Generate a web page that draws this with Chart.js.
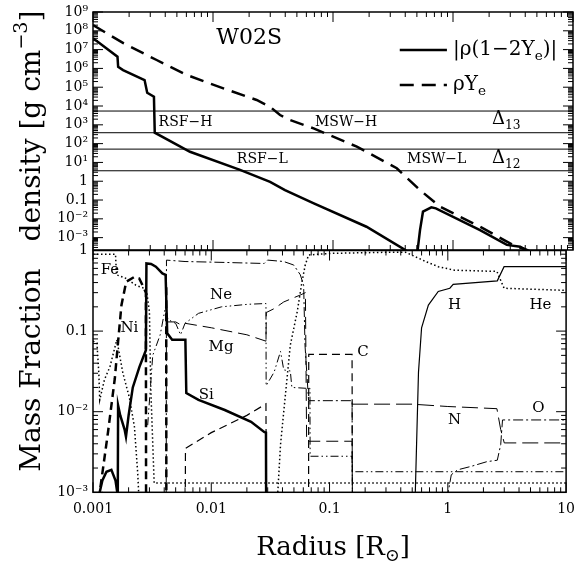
<!DOCTYPE html>
<html>
<head>
<meta charset="utf-8">
<script src="https://cdn.jsdelivr.net/npm/chart.js@4.4.1/dist/chart.umd.min.js"></script>
<style>
body { margin: 0; background: #fff; width: 584px; height: 580px; position: relative; overflow: hidden; }
canvas { position: absolute; left: 0; }
#top { top: 0; }
#bot { top: 238px; }
</style>
</head>
<body>
<canvas id="top" width="584" height="262" style="width:584px;height:262px"></canvas>
<canvas id="bot" width="584" height="342" style="width:584px;height:342px"></canvas>
<script>
// ---- top panel: density profiles (radius in R_sun, density in g/cm^3)
const radRhoYe = [0.001,0.00179,0.00339,0.00603,0.0122,0.0231,0.0298,0.0362,0.0438,0.0689,0.158,0.34,0.53,0.78,1.68,3.16,4.13,5.3];
const rhoYe    = [2.0e8,2.2e7,2.8e6,4.5e5,8.7e4,2.1e4,9.2e3,3.3e3,1.8e3,650,69,4.9,0.34,0.044,3.8e-3,4.1e-4,2.2e-4,1e-4];
const radRhoAbs = [0.001,0.0016,0.00162,0.00178,0.00269,0.00283,0.00322,0.00327,0.00643,0.0168,0.0299,0.0398,0.0692,0.19,0.40,0.45,0.50,0.531,0.562,0.66,0.72,1.68,2.81,3.63,4.07,4.5];
const rhoAbs    = [4.0e7,4.2e6,1.2e6,8.1e5,2.4e5,5.1e4,3.1e4,380,37,4.0,0.93,0.34,0.066,3.8e-3,2.2e-4,1e-4,1e-4,2.5e-3,0.024,0.041,0.036,2.5e-3,4.1e-4,3.3e-4,2.2e-4,1e-4];
// resonance density levels (horizontal lines)
const resRho = [5400, 380, 51, 3.6];

// ---- bottom panel: mass fractions
const feR = [0.001,0.00155,0.00158,0.00191,0.00231,0.0027,0.00285,0.003,0.00308,0.00329,10];
const fe  = [0.9,0.9,0.5,0.45,0.37,0.34,0.3,0.175,0.0195,0.0013,0.0013];
const sR  = [0.001,0.00108,0.00112,0.00114,0.00125,0.00139,0.00159,0.00179,0.00203,0.00224,0.00239,0.00245];
const s   = [0.075,0.071,0.03,0.014,0.025,0.036,0.078,0.03,0.015,0.0065,0.0017,0.0008];
const niR = [0.00112,0.00114,0.00134,0.00153,0.00163,0.00174,0.00191,0.00224,0.00246,0.0027,0.0028,0.00281,0.00415,0.00416,0.00417];
const ni  = [0.0008,0.001,0.0056,0.026,0.074,0.21,0.41,0.47,0.45,0.34,0.3,0.0008,null,0.35,0.0008];
const siR = [0.0011,0.0012,0.0013,0.00143,0.00155,0.00162,0.00163,0.0017,0.00185,0.0019,0.002,0.00217,0.00247,0.0028,0.00283,0.0031,0.0034,0.00386,0.00411,0.00424,0.00467,0.00604,0.00615,0.0078,0.013,0.0217,0.028,0.029,0.0291];
const si  = [0.0008,0.0014,0.0018,0.0019,0.0014,0.0009,0.012,0.009,0.006,0.0049,0.009,0.02,0.036,0.058,0.69,0.68,0.63,0.52,0.5,0.094,0.078,0.078,0.017,0.014,0.0105,0.0075,0.0056,0.0055,0.0008];
const neR = [0.0029,0.0032,0.0037,0.0041,0.0043,0.0047,0.005,0.0055,0.006,0.0078,0.0122,0.0204,0.029,0.0291,0.034,0.0385,0.041,0.0466,0.048,0.064,0.0683,0.0685,0.155,0.156,10];
const ne  = [0.0068,0.05,0.09,0.2,0.14,0.13,0.125,0.09,0.125,0.166,0.2,0.215,0.22,0.021,0.031,0.056,0.033,0.032,0.02,0.0195,0.0195,0.0028,0.0028,0.0018,0.0018];
const mgR = [0.0043,0.005,0.0055,0.006,0.01,0.02,0.029,0.0292,0.034,0.041,0.05,0.0565,0.0625,0.064,0.155,0.156];
const mg  = [0.13,0.13,0.12,0.125,0.11,0.09,0.075,0.17,0.19,0.23,0.26,0.28,0.3,0.0043,0.0043,0.0008];
const oR  = [0.00416,0.00418,0.006,0.0135,0.028,0.0299,0.041,0.0498,0.0566,0.0604,0.062,0.0665,0.155,0.156,0.5,0.98,1.07,1.21,1.58,2.14,2.62,2.8,2.9,10];
const o   = [0.0008,0.76,0.73,0.71,0.69,0.76,0.73,0.66,0.5,0.37,0.067,0.0137,0.0137,0.0008,null,0.0008,0.00165,0.0019,0.0021,0.0024,0.0025,0.0039,0.0079,0.0079];
const cR  = [0.00603,0.00605,0.01,0.02,0.029,0.0292,0.05,0.0665,0.0667,0.155,0.156];
const c   = [0.0008,0.0035,0.0055,0.009,0.0125,0.0008,null,0.0008,0.0515,0.0515,0.0008];
const nR  = [0.155,0.5,1.0,2.6,2.8,3.0,10];
const n   = [0.0124,0.0124,0.0116,0.0109,0.006,0.0041,0.0041];
const hR  = [0.53,0.531,0.565,0.60,0.685,0.83,1.04,1.11,2.62,2.99,10];
const h   = [0.0008,0.001,0.031,0.11,0.21,0.31,0.34,0.38,0.42,0.63,0.63];
const heR = [0.0362,0.0385,0.041,0.0466,0.0533,0.0585,0.0623,0.0665,0.1,0.3,0.44,0.65,0.83,1.14,2.6,2.99,10];
const he  = [0.0008,0.0039,0.01,0.067,0.174,0.41,0.66,0.88,0.92,0.95,0.95,0.73,0.63,0.57,0.55,0.34,0.32];

// ---- ticks
const radTicks = [0.001, 0.01, 0.1, 1, 10];
const radTickText = ['0.001', '0.01', '0.1', '1', '10'];
const rhoTicks = [1e9,1e8,1e7,1e6,1e5,1e4,1e3,1e2,1e1,1,0.1,0.01,0.001];
const rhoTickText = ['10⁹','10⁸','10⁷','10⁶','10⁵','10⁴','10³','10²','10¹','1','0.1','10⁻²','10⁻³'];
const massTicks = [1, 0.1, 0.01, 0.001];
const massTickText = ['1', '0.1', '10⁻²', '10⁻³'];

const SERIF = 'DejaVu Serif';

function pts(xs, ys) { return xs.map((x, i) => ({ x: x, y: ys[i] })); }

function line(data, dash, width) {
  return { data: data, borderColor: '#000', borderWidth: width, borderDash: dash,
           pointRadius: 0, fill: false, tension: 0, spanGaps: false };
}

// text with sub/superscripts: parts = [[text, shift]] shift -1 sub, 1 sup
function rich(ctx, parts, x, y, size, align) {
  const widths = parts.map(p => {
    ctx.font = (p[1] ? size * 0.68 : size) + 'px "' + SERIF + '"';
    return ctx.measureText(p[0]).width;
  });
  const total = widths.reduce((a, b) => a + b, 0);
  let cx = align === 'center' ? x - total / 2 : (align === 'right' ? x - total : x);
  ctx.textAlign = 'left';
  ctx.textBaseline = 'middle';
  ctx.fillStyle = '#000';
  parts.forEach((p, i) => {
    ctx.font = (p[1] ? size * 0.68 : size) + 'px "' + SERIF + '"';
    const dy = p[1] === -1 ? size * 0.32 : (p[1] === 1 ? -size * 0.38 : 0);
    ctx.fillText(p[0], cx, y + dy);
    cx += widths[i];
  });
}

// frame with inward log ticks on all four sides
const framePlugin = {
  id: 'frame',
  afterDatasetsDraw(chart) {
    const { ctx, chartArea: a } = chart;
    const x = chart.scales.x, y = chart.scales.y;
    ctx.save();
    ctx.strokeStyle = '#000';
    ctx.lineWidth = 1.5;
    ctx.strokeRect(a.left, a.top, a.right - a.left, a.bottom - a.top);
    ctx.lineWidth = 1;
    ctx.beginPath();
    for (let d = -3; d <= 1; d++) {
      for (let k = 1; k < 10; k++) {
        const v = k * Math.pow(10, d);
        if (v > 10.0001) continue;
        const px = x.getPixelForValue(v);
        const L = k === 1 ? 10 : 5;
        ctx.moveTo(px, a.bottom); ctx.lineTo(px, a.bottom - L);
        ctx.moveTo(px, a.top); ctx.lineTo(px, a.top + L);
      }
    }
    const lo = Math.floor(Math.log10(y.min)), hi = Math.ceil(Math.log10(y.max));
    for (let d = lo; d <= hi; d++) {
      for (let k = 1; k < 10; k++) {
        const v = k * Math.pow(10, d);
        if (v < y.min * 0.999 || v > y.max * 1.001) continue;
        const py = y.getPixelForValue(v);
        const L = k === 1 ? 10 : 5;
        ctx.moveTo(a.left, py); ctx.lineTo(a.left + L, py);
        ctx.moveTo(a.right, py); ctx.lineTo(a.right - L, py);
      }
    }
    ctx.stroke();
    ctx.restore();
  }
};

// labels inside the top panel: [parts, radius, density, align, size]
const topLabels = [
  [[['W02S', 0]], 0.02, 3.9e7, 'center', 22],
  [[['RSF−H', 0]], 0.00352, 1300, 'left', 14],
  [[['MSW−H', 0]], 0.0708, 1300, 'left', 14],
  [[['RSF−L', 0]], 0.0158, 14, 'left', 14],
  [[['MSW−L', 0]], 0.414, 14, 'left', 14],
  [[['Δ', 0], ['13', -1]], 2.11, 1900, 'left', 18],
  [[['Δ', 0], ['12', -1]], 2.11, 16, 'left', 18]
];
// labels inside the bottom panel: [text, radius, mass fraction]
const massLabels = [
  ['Fe', 0.00139, 0.57], ['Ni', 0.00203, 0.109], ['Ne', 0.0121, 0.28],
  ['Mg', 0.0121, 0.0635], ['Si', 0.00908, 0.0161], ['C', 0.192, 0.055],
  ['H', 1.14, 0.211], ['He', 6.07, 0.211], ['N', 1.14, 0.0079], ['O', 5.84, 0.0111]
];

const topText = {
  id: 'topText',
  afterDraw(chart) {
    const ctx = chart.ctx, x = chart.scales.x, y = chart.scales.y;
    ctx.save();
    topLabels.forEach(l => rich(ctx, l[0], x.getPixelForValue(l[1]), y.getPixelForValue(l[2]), l[4], l[3]));
    // legend
    const lx0 = x.getPixelForValue(0.36), lx1 = x.getPixelForValue(0.89), tx = x.getPixelForValue(1.0);
    const ly1 = y.getPixelForValue(9.5e6), ly2 = y.getPixelForValue(1.3e5);
    ctx.strokeStyle = '#000';
    ctx.lineWidth = 2.5;
    ctx.beginPath(); ctx.moveTo(lx0, ly1); ctx.lineTo(lx1, ly1); ctx.stroke();
    ctx.setLineDash([14, 8]);
    ctx.beginPath(); ctx.moveTo(lx0, ly2); ctx.lineTo(lx1, ly2); ctx.stroke();
    ctx.setLineDash([]);
    rich(ctx, [['|ρ(1−2Y', 0], ['e', -1], [')|', 0]], tx, ly1, 20, 'left');
    rich(ctx, [['ρY', 0], ['e', -1]], tx, ly2, 20, 'left');
    // y title
    ctx.translate(33, 126);
    ctx.rotate(-Math.PI / 2);
    rich(ctx, [['density [g cm', 0], ['−3', 1], [']', 0]], 0, 0, 28, 'center');
    ctx.restore();
  }
};

const botText = {
  id: 'botText',
  afterDraw(chart) {
    const ctx = chart.ctx, x = chart.scales.x, y = chart.scales.y;
    ctx.save();
    massLabels.forEach(l => rich(ctx, [[l[0], 0]], x.getPixelForValue(l[1]), y.getPixelForValue(l[2]), 15, 'center'));
    rich(ctx, [['Radius [R', 0], ['⊙', -1], [']', 0]], 333, 310, 26, 'center');
    ctx.translate(33, 132);
    ctx.rotate(-Math.PI / 2);
    rich(ctx, [['Mass Fraction', 0]], 0, 0, 28, 'center');
    ctx.restore();
  }
};

// keep the plot area exactly where the layout padding puts it
function fixY(sc) { sc.width = 93; sc.paddingTop = 0; sc.paddingBottom = 0; }

const topChart = new Chart(document.getElementById('top').getContext('2d'), {
  type: 'line',
  data: {
    datasets: [
      line(pts(radRhoAbs, rhoAbs), [], 2.5),
      line(pts(radRhoYe, rhoYe), [14, 8], 2.5)
    ].concat(resRho.map(v => line(pts([0.001, 10], [v, v]), [], 1)))
  },
  options: {
    responsive: false,
    animation: false,
    devicePixelRatio: 1,
    layout: { padding: { left: 0, right: 11, top: 12, bottom: 12 } },
    plugins: { legend: { display: false }, tooltip: { enabled: false } },
    scales: {
      x: { type: 'logarithmic', min: 0.001, max: 10, display: false },
      y: {
        type: 'logarithmic', min: 2.2e-4, max: 1e9,
        afterBuildTicks: sc => { sc.ticks = rhoTicks.map(v => ({ value: v })); },
        afterFit: fixY,
        grid: { display: false, drawTicks: false },
        border: { display: false },
        ticks: { callback: (v, i) => rhoTickText[i], autoSkip: false, padding: 5,
                 color: '#000', font: { family: SERIF, size: 14 } }
      }
    }
  },
  plugins: [framePlugin, topText]
});

const botChart = new Chart(document.getElementById('bot').getContext('2d'), {
  type: 'line',
  data: {
    datasets: [
      line(pts(feR, fe), [1.5, 2.5], 1.5),
      line(pts(sR, s), [1.5, 2.5], 1.5),
      line(pts(niR, ni), [8, 5], 2.5),
      line(pts(siR, si), [], 2.5),
      line(pts(neR, ne), [8, 3, 1.5, 3, 1.5, 3], 1),
      line(pts(mgR, mg), [12, 6], 1),
      line(pts(oR, o), [10, 3, 2, 3], 1),
      line(pts(cR, c), [8, 5], 1.2),
      line(pts(nR, n), [16, 6], 1),
      line(pts(hR, h), [], 1.2),
      line(pts(heR, he), [1.5, 2.5], 1.5)
    ]
  },
  options: {
    responsive: false,
    animation: false,
    devicePixelRatio: 1,
    layout: { padding: { left: 0, right: 11, top: 12.5, bottom: 0 } },
    plugins: { legend: { display: false }, tooltip: { enabled: false } },
    scales: {
      x: {
        type: 'logarithmic', min: 0.001, max: 10,
        afterBuildTicks: sc => { sc.ticks = radTicks.map(v => ({ value: v })); },
        afterFit: sc => { sc.height = 87.7; },
        grid: { display: false, drawTicks: false },
        border: { display: false },
        ticks: { callback: (v, i) => radTickText[i], autoSkip: false, maxRotation: 0, padding: 9,
                 color: '#000', font: { family: SERIF, size: 14 } }
      },
      y: {
        type: 'logarithmic', min: 0.001, max: 1,
        afterBuildTicks: sc => { sc.ticks = massTicks.map(v => ({ value: v })); },
        afterFit: fixY,
        grid: { display: false, drawTicks: false },
        border: { display: false },
        ticks: { callback: (v, i) => massTickText[i], autoSkip: false, padding: 5,
                 color: '#000', font: { family: SERIF, size: 14 } }
      }
    }
  },
  plugins: [framePlugin, botText]
});
</script>
</body>
</html>
